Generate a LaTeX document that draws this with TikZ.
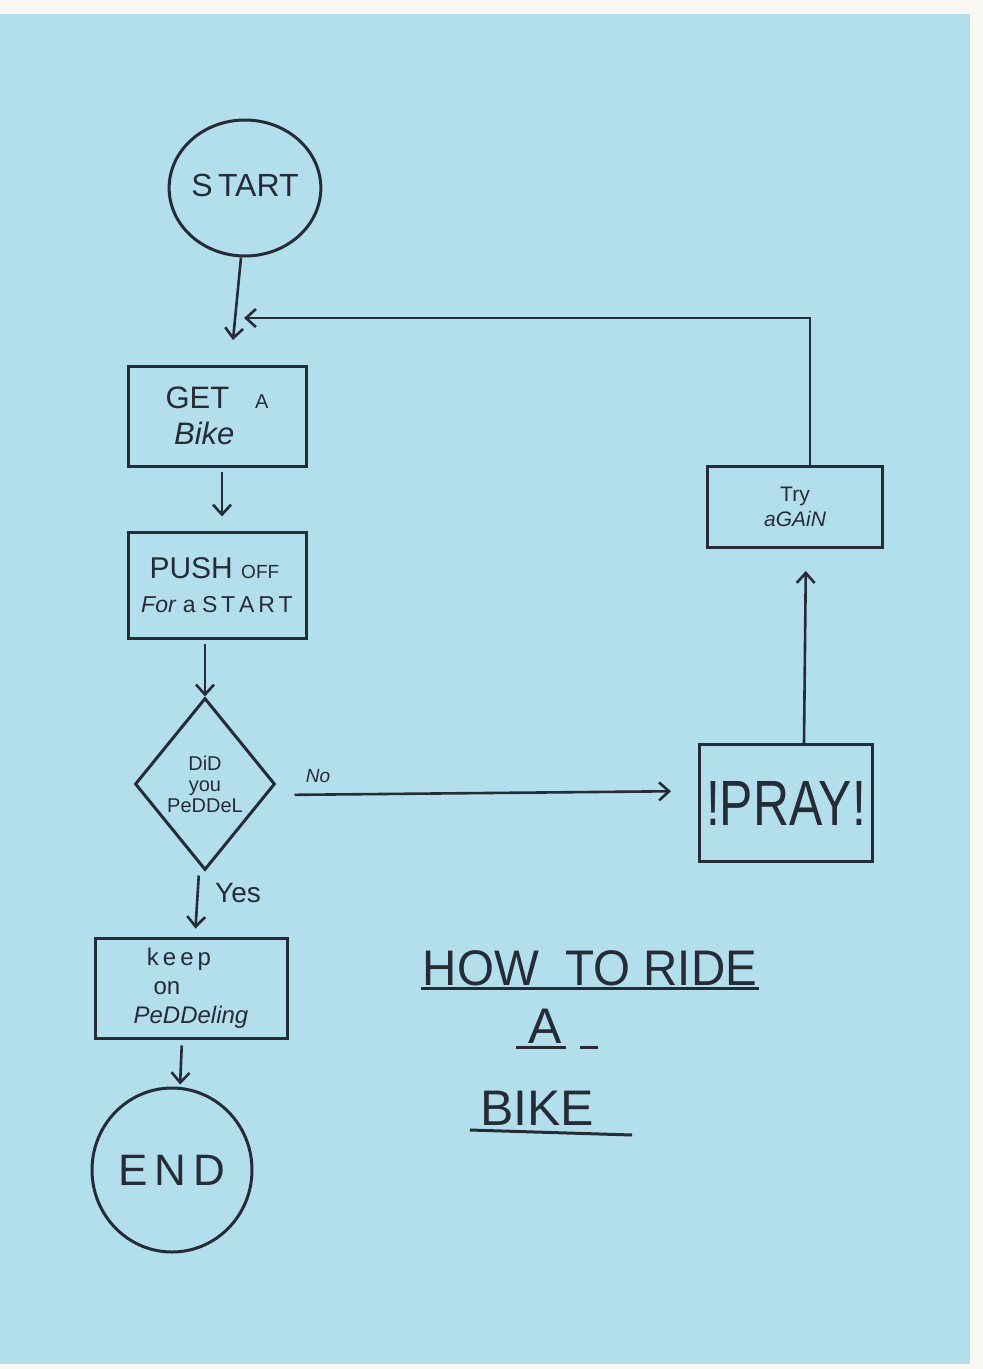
\documentclass[tikz,border=0pt]{standalone}
\usepackage{fontspec}
\usepackage{graphicx}
\setmainfont{Liberation Sans}
\usetikzlibrary{shapes.geometric,arrows.meta}
\definecolor{paper}{RGB}{179,223,236}
\definecolor{ink}{RGB}{38,44,54}
\definecolor{margin}{RGB}{250,248,242}
\begin{document}
\begin{tikzpicture}[x=1pt,y=-1pt,
  inkline/.style={draw=ink,line width=3pt},
  box/.style={rectangle, inkline, inner sep=0pt, text=ink},
  term/.style={ellipse, inkline, inner sep=0pt, text=ink},
  arr/.style={draw=ink,line width=2.6pt,-{Straight Barb[length=10pt,width=18pt]}},
  lbl/.style={text=ink, inner sep=0pt}]
\useasboundingbox (0,0) rectangle (983,1369);
\fill[margin] (0,0) rectangle (983,1369);
\fill[paper] (0,14) rectangle (970,1364);

% nodes
\node[term, minimum width=136pt, minimum height=136pt, font=\fontsize{32}{34}\selectfont] (start) at (245,188) {\raisebox{6pt}{S\,TART}};
\node[box, align=left, minimum width=178pt, minimum height=100pt, font=\fontsize{31}{40}\selectfont] (get) at (217,416) {GET\ \ \ {\fontsize{20}{20}\selectfont A}\\[-4pt] \ \textit{Bike}};
\node[box, align=left, minimum width=178pt, minimum height=106pt, font=\fontsize{30}{34}\selectfont] (push) at (217,585) {\ PUSH {\fontsize{19}{20}\selectfont OFF}\\ {\fontsize{23}{24}\selectfont\textit{For} a S\,T\,A\,R\,T}};
\node[diamond, inkline, minimum width=140pt, minimum height=172pt, inner sep=0pt, align=center, text=ink, font=\fontsize{20}{21}\selectfont] (dia) at (205,784) {DiD\\you\\PeDDeL};
\node[box, align=center, minimum width=173pt, minimum height=117pt, font=\fontsize{64}{64}\selectfont] (pray) at (786,803) {\scalebox{0.78}[1]{!PRAY!}};
\node[box, align=center, minimum width=175pt, minimum height=81pt, font=\fontsize{21}{25}\selectfont] (try) at (795,507) {Try\\\textit{aGAiN}};
\node[box, align=left, minimum width=192pt, minimum height=100pt, font=\fontsize{24}{29}\selectfont] (keep) at (191,988) {\ \ k\,e\,e\,p\\ \ \ \ on\\ \textit{PeDDeling}};
\node[term, minimum width=160pt, minimum height=164pt, font=\fontsize{44}{44}\selectfont] (end) at (172,1170) {E\,N\,D};

% labels
\node[lbl, font=\fontsize{19}{19}\selectfont\itshape] (no) at (318,776) {No};
\node[lbl, font=\fontsize{28}{28}\selectfont] (yes) at (238,893) {Yes};

% title
\node[lbl, anchor=base, font=\fontsize{50}{50}\selectfont] (t1) at (590,985) {\scalebox{0.95}[1]{HOW\ \ TO RIDE}};
\node[lbl, anchor=base, font=\fontsize{50}{50}\selectfont] (t2) at (545,1043) {A};
\node[lbl, anchor=base, font=\fontsize{50}{50}\selectfont] (t3) at (537,1125) {BIKE};
\draw[inkline] ([yshift=-3pt,xshift=-2pt]t1.base west) -- ([yshift=-3pt,xshift=2pt]t1.base east);
\draw[inkline] ([yshift=-4pt,xshift=-12pt]t2.base west) -- ([yshift=-4pt,xshift=4pt]t2.base east);
\draw[inkline] ([yshift=-4pt,xshift=18pt]t2.base east) -- ([yshift=-4pt,xshift=36pt]t2.base east);
\draw[inkline] ([yshift=-5pt,xshift=-10pt]t3.base west) -- ([yshift=-10pt,xshift=38pt]t3.base east);

% connectors
\coordinate (j1) at (233,340);
\coordinate (loopin) at (244,318);
\draw[arr] ([xshift=-4pt]start.south) -- (j1);
\draw[arr] ([xshift=15pt]try.north) |- (loopin);
\draw[arr, shorten <=4pt, shorten >=14pt] ([xshift=5pt]get.south) -- ([xshift=5pt]push.north);
\draw[arr, shorten <=4pt] (push.south -| dia.north) -- (dia.north);
\draw[arr, shorten <=18pt, shorten >=27pt] ([yshift=-11pt]dia.east) -- ([yshift=12pt]pray.west);
\draw[arr, shorten <=4pt, shorten >=8pt] ([xshift=-6pt]dia.south) -- ([xshift=4pt]keep.north);
\draw[arr, shorten <=6pt, shorten >=2pt] ([xshift=-9pt]keep.south) -- ([xshift=8pt]end.north);
\draw[arr, shorten >=22pt] ([xshift=18pt]pray.north) -- ([xshift=11pt]try.south);
\end{tikzpicture}
\end{document}
